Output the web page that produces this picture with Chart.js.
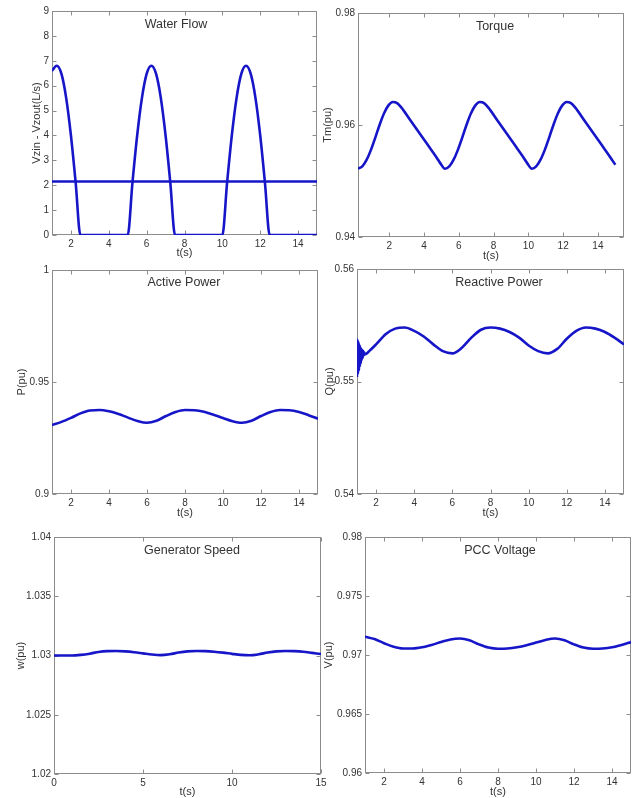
<!DOCTYPE html>
<html>
<head>
<meta charset="utf-8">
<script src="https://cdn.jsdelivr.net/npm/chart.js@4.4.1/dist/chart.umd.min.js"></script>
<style>
  html, body { margin: 0; padding: 0; background: #fff; }
  #fig { position: relative; width: 638px; height: 798px; overflow: hidden; background: #fff; }
  #fig canvas { position: absolute; }
</style>
</head>
<body>
<div id="fig"></div>
<script>
// --- data ---
// water flow (Vzin - Vzout) and the constant reference line
const flowT = [1, 1.25, 1.5, 1.75, 2, 2.25, 2.5,
               5, 5.25, 5.5, 5.75, 6, 6.25, 6.5, 6.75, 7, 7.25, 7.5,
               10, 10.25, 10.5, 10.75, 11, 11.25, 11.5, 11.75, 12, 12.25, 12.5, 15];
const flowV = [6.6, 6.8, 6.47, 5.5, 4.0, 2.1, 0,
               0, 2.1, 4.0, 5.5, 6.47, 6.8, 6.47, 5.5, 4.0, 2.1, 0,
               0, 2.1, 4.0, 5.5, 6.47, 6.8, 6.47, 5.5, 4.0, 2.1, 0, 0];
const flowRefT = [1, 15];
const flowRefV = [2.15, 2.15];

// torque
const torqueT = [0.2, 0.45, 0.7, 0.95, 1.2, 1.45, 1.7, 1.95, 2.2, 2.45, 2.7, 3.2, 3.7, 4.2, 4.7, 4.95,
                 5.2, 5.45, 5.7, 5.95, 6.2, 6.45, 6.7, 6.95, 7.2, 7.45, 7.7, 8.2, 8.7, 9.2, 9.7, 9.95,
                 10.2, 10.45, 10.7, 10.95, 11.2, 11.45, 11.7, 11.95, 12.2, 12.45, 12.7, 13.2, 13.7, 14.2, 14.7, 15];
const torqueV = [0.9522, 0.9526, 0.9538, 0.9556, 0.9578, 0.9601, 0.9621, 0.9635, 0.9641, 0.9639, 0.9631, 0.9609, 0.9587, 0.9565, 0.9543, 0.9531,
                 0.9522, 0.9526, 0.9538, 0.9556, 0.9578, 0.9601, 0.9621, 0.9635, 0.9641, 0.9639, 0.9631, 0.9609, 0.9587, 0.9565, 0.9543, 0.9531,
                 0.9522, 0.9526, 0.9538, 0.9556, 0.9578, 0.9601, 0.9621, 0.9635, 0.9641, 0.9639, 0.9631, 0.9609, 0.9587, 0.9565, 0.9543, 0.9529];

// active power
const activeT = [1, 1.5, 2, 2.5, 3, 3.5, 4, 4.5, 5, 5.5, 6, 6.5, 7, 7.5, 8, 8.5, 9, 9.5, 10, 10.5,
                 11, 11.5, 12, 12.5, 13, 13.5, 14, 14.5, 15];
const activeV = [0.9308, 0.9322, 0.9340, 0.9360, 0.9373, 0.9375, 0.9369, 0.9357, 0.9341, 0.9326,
                 0.9318, 0.9327, 0.9348, 0.9366, 0.9375, 0.9374, 0.9367, 0.9354, 0.9339, 0.9325,
                 0.9318, 0.9327, 0.9348, 0.9366, 0.9375, 0.9374, 0.9366, 0.9352, 0.9336];

// reactive power (fast ringing right after start)
const reactT = [1, 1.025, 1.05, 1.075, 1.1, 1.125, 1.15, 1.175, 1.2, 1.225, 1.25, 1.275, 1.3, 1.325, 1.35, 1.375, 1.4,
                1.7, 2, 2.5, 3, 3.5, 4, 4.5, 5, 5.5, 6, 6.5, 7, 7.5, 8, 8.5, 9, 9.5, 10, 10.5,
                11, 11.5, 12, 12.5, 13, 13.5, 14, 14.5, 15];
const reactV = [0.5504, 0.5537, 0.5507, 0.5535, 0.5510, 0.5533, 0.5513, 0.5531, 0.5516, 0.5529, 0.5519, 0.5528, 0.5521, 0.5527, 0.5523, 0.5526, 0.5524,
                0.5528, 0.5533, 0.5542, 0.5547, 0.5548, 0.5545, 0.5540, 0.5533, 0.5527, 0.5525, 0.5530, 0.5539, 0.5546, 0.5548, 0.5547, 0.5544, 0.5539, 0.5532, 0.5527,
                0.5525, 0.5529, 0.5538, 0.5545, 0.5548, 0.5547, 0.5544, 0.5539, 0.5533];

// generator speed
const speedT = [0, 0.5, 1, 1.5, 2, 2.5, 3, 3.5, 4, 4.5, 5, 5.5, 6, 6.5, 7, 7.5, 8, 8.5, 9, 9.5, 10, 10.5,
                11, 11.5, 12, 12.5, 13, 13.5, 14, 14.5, 15];
const speedV = [1.0300, 1.0300, 1.03000, 1.03005, 1.03015, 1.03030, 1.03037, 1.03038, 1.03035, 1.03028,
                1.03018, 1.03008, 1.03003, 1.03010, 1.03025, 1.03035, 1.03038, 1.03037, 1.03032, 1.03024,
                1.03014, 1.03005, 1.03002, 1.03010, 1.03025, 1.03035, 1.03038, 1.03037, 1.03032, 1.03022, 1.03012];

// PCC voltage
const voltT = [1, 1.5, 2, 2.5, 3, 3.5, 4, 4.5, 5, 5.5, 6, 6.5, 7, 7.5, 8, 8.5, 9, 9.5, 10, 10.5,
               11, 11.5, 12, 12.5, 13, 13.5, 14, 14.5, 15];
const voltV = [0.97155, 0.97135, 0.97100, 0.97070, 0.97055, 0.97055, 0.97065, 0.97085, 0.97110, 0.97132,
               0.97140, 0.97125, 0.97090, 0.97063, 0.97053, 0.97055, 0.97065, 0.97082, 0.97105, 0.97128,
               0.97140, 0.97125, 0.97090, 0.97063, 0.97053, 0.97055, 0.97065, 0.97085, 0.97110];

// tick labels
const tTicks = [2, 4, 6, 8, 10, 12, 14];
const tTicksSpeed = [0, 5, 10, 15];
const flowTicks = [0, 1, 2, 3, 4, 5, 6, 7, 8, 9];
const torqueTicks = [0.94, 0.96, 0.98];
const activeTicks = [0.9, 0.95, 1];
const reactTicks = [0.54, 0.55, 0.56];
const speedTicks = [1.02, 1.025, 1.03, 1.035, 1.04];
const voltTicks = [0.96, 0.965, 0.97, 0.975, 0.98];

const BLUE = '#1616c8';
const FRAME = '#8c8c8c';
const TEXT = '#333';
const FONT = "'Liberation Sans', Arial, sans-serif";

const panels = [
    { title: 'Water Flow', ylab: 'Vzin - Vzout(L/s)', ylabSize: 11, series: [[flowT, flowV], [flowRefT, flowRefV]],
      xmin: 1, xmax: 15, ymin: 0, ymax: 9, xt: tTicks, yt: flowTicks,
      plot: { l: 52, t: 11, r: 317, b: 235 }, ylabX: 37, xlabY: 253, titleX: 176, titleY: 25 },
    { title: 'Torque', ylab: 'Tm(pu)', ylabSize: 11, series: [[torqueT, torqueV]],
      xmin: 0.2, xmax: 15.5, ymin: 0.94, ymax: 0.98, xt: tTicks, yt: torqueTicks,
      plot: { l: 358, t: 13, r: 624, b: 237 }, ylabX: 328, xlabY: 256, titleX: 495, titleY: 27 },
    { title: 'Active Power', ylab: 'P(pu)', ylabSize: 11, series: [[activeT, activeV]],
      xmin: 1, xmax: 15, ymin: 0.9, ymax: 1, xt: tTicks, yt: activeTicks,
      plot: { l: 52, t: 270, r: 318, b: 494 }, ylabX: 22, xlabY: 513, titleX: 184, titleY: 283 },
    { title: 'Reactive Power', ylab: 'Q(pu)', ylabSize: 11, series: [[reactT, reactV]],
      xmin: 1, xmax: 15, ymin: 0.54, ymax: 0.56, xt: tTicks, yt: reactTicks,
      plot: { l: 357, t: 269, r: 624, b: 494 }, ylabX: 330, xlabY: 513, titleX: 499, titleY: 283 },
    { title: 'Generator Speed', ylab: 'w(pu)', ylabSize: 11, series: [[speedT, speedV]],
      xmin: 0, xmax: 15, ymin: 1.02, ymax: 1.04, xt: tTicksSpeed, yt: speedTicks,
      plot: { l: 54, t: 537, r: 321, b: 774 }, ylabX: 21, xlabY: 792, titleX: 192, titleY: 551 },
    { title: 'PCC Voltage', ylab: 'V(pu)', ylabSize: 11, series: [[voltT, voltV]],
      xmin: 1, xmax: 15, ymin: 0.96, ymax: 0.98, xt: tTicks, yt: voltTicks,
      plot: { l: 365, t: 537, r: 631, b: 773 }, ylabX: 329, xlabY: 792, titleX: 500, titleY: 551 }
];

// matlab-like axes box with inward ticks, and the title inside the plot
const boxPlugin = {
    id: 'matlabBox',
    beforeDatasetsDraw(chart, args, opts) {
        const { ctx, chartArea: a, scales } = chart;
        const L = Math.round(a.left) + 0.5, R = Math.round(a.right) - 0.5;
        const T = Math.round(a.top) + 0.5, B = Math.round(a.bottom) - 0.5;
        ctx.save();
        ctx.strokeStyle = FRAME;
        ctx.lineWidth = 1;
        ctx.strokeRect(L, T, R - L, B - T);
        ctx.beginPath();
        scales.x.ticks.forEach(tk => {
            const px = Math.round(scales.x.getPixelForValue(tk.value)) + 0.5;
            ctx.moveTo(px, B); ctx.lineTo(px, B - 4);
            ctx.moveTo(px, T); ctx.lineTo(px, T + 4);
        });
        scales.y.ticks.forEach(tk => {
            const py = Math.round(scales.y.getPixelForValue(tk.value)) + 0.5;
            ctx.moveTo(L, py); ctx.lineTo(L + 4, py);
            ctx.moveTo(R, py); ctx.lineTo(R - 4, py);
        });
        ctx.stroke();
        ctx.fillStyle = TEXT;
        ctx.font = '12.5px ' + FONT;
        ctx.textAlign = 'center';
        ctx.textBaseline = 'middle';
        ctx.fillText(opts.text, opts.x, opts.y);
        ctx.restore();
    }
};

const fig = document.getElementById('fig');

panels.forEach(p => {
    const half = p.ylabSize * 0.6;
    const cl = Math.round(p.ylabX - half);
    const ct = p.plot.t - 10;
    const cw = p.plot.r + 10 - cl;
    const ch = Math.round(p.xlabY + 6.6) - ct;
    const yW = p.plot.l - cl;
    const xH = ch - 10 - (p.plot.b - p.plot.t);

    const canvas = document.createElement('canvas');
    canvas.width = cw;
    canvas.height = ch;
    canvas.style.left = cl + 'px';
    canvas.style.top = ct + 'px';
    canvas.style.width = cw + 'px';
    canvas.style.height = ch + 'px';
    fig.appendChild(canvas);

    const tickFont = { family: FONT, size: 10 };
    const labFont = { family: FONT, size: 11 };

    new Chart(canvas, {
        type: 'scatter',
        data: {
            datasets: p.series.map(([xs, ys]) => ({
                data: xs.map((x, i) => ({ x: x, y: ys[i] })),
                showLine: true,
                borderColor: BLUE,
                borderWidth: 2.6,
                pointRadius: 0,
                cubicInterpolationMode: 'monotone'
            }))
        },
        options: {
            responsive: false,
            animation: false,
            devicePixelRatio: 1,
            layout: { padding: { top: 10, right: 10, left: 0, bottom: 0 } },
            plugins: {
                legend: { display: false },
                tooltip: { enabled: false },
                matlabBox: { text: p.title, x: p.titleX - cl, y: p.titleY - ct }
            },
            scales: {
                x: {
                    type: 'linear', min: p.xmin, max: p.xmax,
                    afterBuildTicks: s => { s.ticks = p.xt.map(v => ({ value: v })); },
                    afterFit: s => { s.height = xH; },
                    grid: { display: false, drawTicks: false },
                    border: { display: false },
                    ticks: { padding: 3, color: TEXT, font: tickFont, maxRotation: 0, autoSkip: false,
                             callback: v => String(v) },
                    title: { display: true, text: 't(s)', color: TEXT, font: labFont, padding: 0 }
                },
                y: {
                    type: 'linear', min: p.ymin, max: p.ymax,
                    afterBuildTicks: s => { s.ticks = p.yt.map(v => ({ value: v })); },
                    afterFit: s => { s.width = yW; },
                    grid: { display: false, drawTicks: false },
                    border: { display: false },
                    ticks: { padding: 3, color: TEXT, font: tickFont, autoSkip: false,
                             callback: v => String(v) },
                    title: { display: true, text: p.ylab, color: TEXT,
                             font: { family: FONT, size: p.ylabSize }, padding: 0 }
                }
            }
        },
        plugins: [boxPlugin]
    });
});
</script>
</body>
</html>
